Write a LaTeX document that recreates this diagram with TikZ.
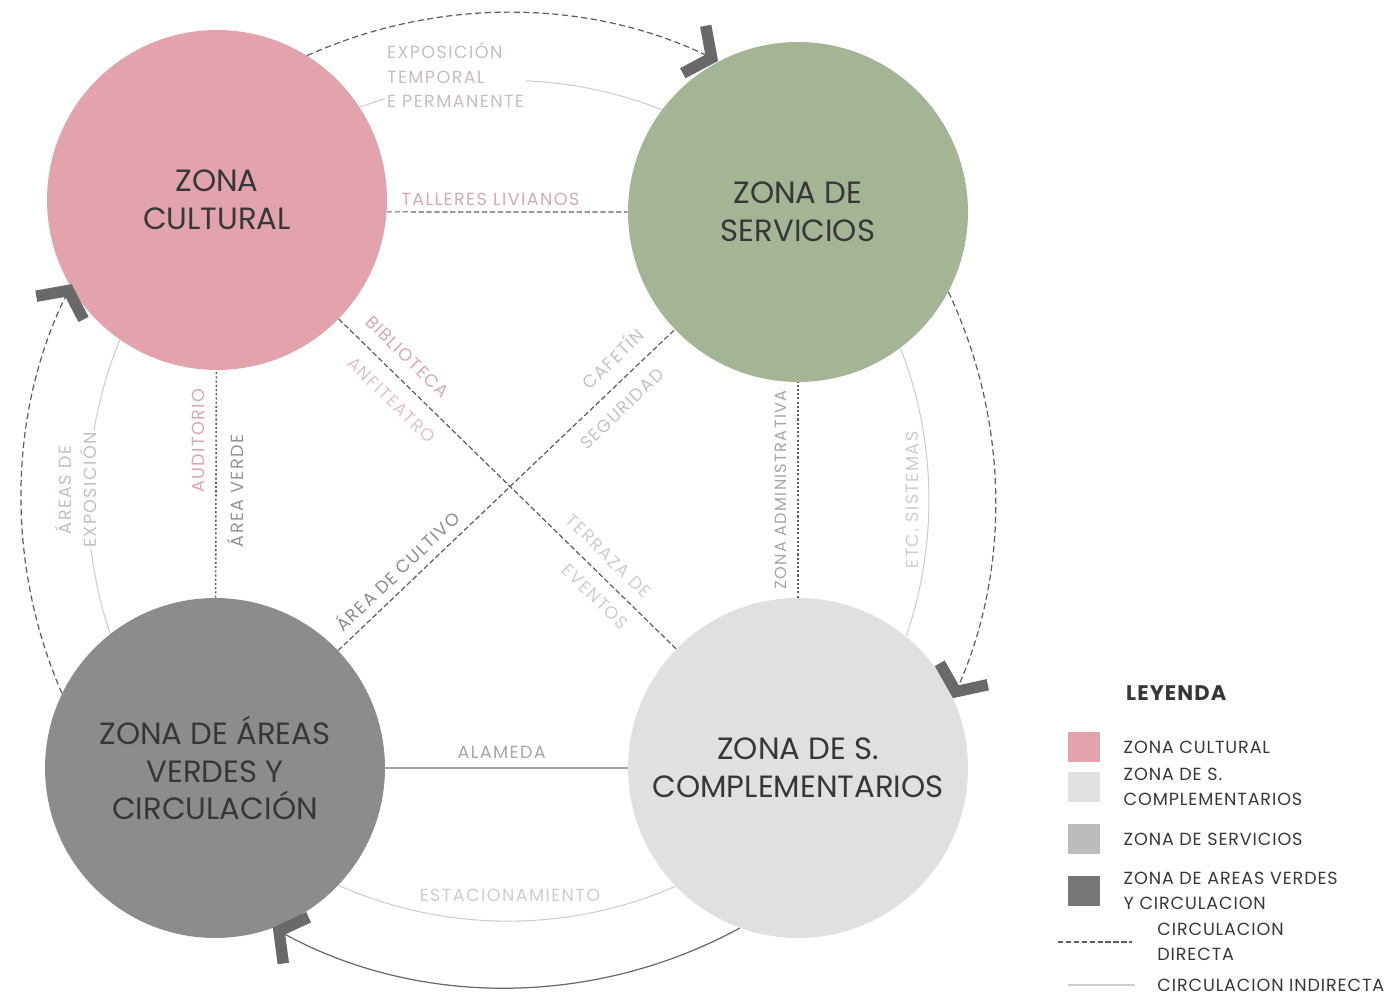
\documentclass[tikz,border=0pt]{standalone}
\usepackage{fontspec}
\setmainfont{Poppins}
\newfontfamily\etiqfont[LetterSpace=8]{Poppins}
\newfontfamily\leyfont[LetterSpace=5]{Poppins}
\usetikzlibrary{arrows.meta, positioning}
\definecolor{cultural}{RGB}{227, 163, 173}
\definecolor{servicios}{RGB}{164, 181, 150}
\definecolor{verdes}{RGB}{140, 140, 140}
\definecolor{complementarios}{RGB}{224, 224, 224}
\definecolor{legserv}{RGB}{188, 188, 188}
\definecolor{legverdes}{RGB}{118, 118, 118}
\definecolor{zonatexto}{RGB}{55, 55, 55}
\definecolor{linea}{RGB}{95, 95, 95}
\definecolor{lineaclara}{RGB}{205, 205, 205}
\definecolor{flecha}{RGB}{105, 105, 105}
\definecolor{etiqrosa}{RGB}{214, 168, 176}
\definecolor{etiqgris}{RGB}{165, 165, 165}
\definecolor{etiqtenue}{RGB}{200, 190, 192}

\tikzset{
  zona/.style={circle, minimum size=6.8cm, inner sep=0pt, align=center, font=\fontsize{17.5}{21.5}\selectfont, text=zonatexto},
  directa/.style={draw=linea, line width=0.7pt, dash pattern=on 3pt off 1.5pt},
  punteada/.style={draw=linea, line width=0.9pt, dash pattern=on 1.2pt off 1.2pt},
  indirecta/.style={draw=lineaclara, line width=0.6pt},
  anillo/.style={draw=linea, line width=0.7pt, dash pattern=on 3.5pt off 2pt},
  cheurona/.style={-{Straight Barb[length=11pt, width=30pt, line width=6.5pt, sharp, color=flecha]}},
  etiq/.style={font=\etiqfont\fontsize{10}{14}\selectfont, text=etiqgris, inner sep=1pt, align=center},
  etiqr/.style={etiq, text=etiqrosa},
  muestra/.style={minimum width=0.64cm, minimum height=0.6cm, inner sep=0pt},
  leyendatxt/.style={font=\leyfont\fontsize{10}{14}\selectfont, text=zonatexto, inner sep=0pt, align=left, anchor=west},
}

\begin{document}
\begin{tikzpicture}[x=0.02cm, y=0.02cm]
    \useasboundingbox (0,0) rectangle (1395,1001);

    % zonas
    \node[zona, fill=cultural] (cul) at (217,801) {ZONA\\CULTURAL};
    \node[zona, fill=servicios] (ser) at (798,789) {ZONA DE\\SERVICIOS};
    \node[zona, fill=verdes] (ver) at (215,233) {ZONA DE ÁREAS\\VERDES Y\\CIRCULACIÓN};
    \node[zona, fill=complementarios] (com) at (798,233) {ZONA DE S.\\COMPLEMENTARIOS};

    % anillo exterior
    \draw[anillo, cheurona] (cul.58) arc[start angle=114.2, end angle=64.3, radius=487];
    \draw[anillo, cheurona] (ser.-28) arc[start angle=25.3, end angle=-24, radius=487];
    \draw[anillo, solid, draw=flecha, cheurona] (com.-110) arc[start angle=-61.4, end angle=-118.7, radius=487];
    \draw[anillo, cheurona] (ver.154) arc[start angle=-156.5, end angle=-206.2, radius=487];

    % anillo interior
    \draw[indirecta] (cul.33) arc[start angle=110.6, end angle=68.4, radius=420];
    \draw[indirecta] (ser.-53) arc[start angle=21.2, end angle=-18.9, radius=420];
    \draw[indirecta] (com.-136) arc[start angle=-66.5, end angle=-113.8, radius=420];
    \draw[indirecta] (ver.128) arc[start angle=-161.4, end angle=-202.6, radius=420];

    \node[etiq, text=etiqtenue, align=left, anchor=west, fill=white] (exposicion) at (385,926) {EXPOSICIÓN\\TEMPORAL\\E PERMANENTE};
    \node[etiq, text=etiqtenue, rotate=90, fill=white] (expareas) at (76,511) {ÁREAS DE\\EXPOSICIÓN};
    \node[etiq, text=lineaclara, rotate=90, fill=white] (sistemas) at (912,501) {ETC. SISTEMAS};
    \node[etiq, text=lineaclara] (estacion) at (510,106) {ESTACIONAMIENTO};

    % conexiones
    \draw[directa] (cul.-4) -- node[etiqr, pos=0.43, above=2pt] {TALLERES LIVIANOS} (ser.west);
    \draw[punteada] (ver) -- node[etiqr, pos=0.69, sloped, above=5pt] {AUDITORIO}
        node[etiq, text=etiqgris!90!black, pos=0.47, sloped, below=5pt] {ÁREA VERDE} (cul);
    \draw[punteada] (com) -- node[etiq, font=\etiqfont\fontsize{9.2}{14}\selectfont, pos=0.5, sloped, above=5pt] {ZONA ADMINISTRATIVA} (ser);
    \draw[directa] (cul) -- node[etiqr, pos=0.16, sloped, above=7pt] {BIBLIOTECA}
        node[etiqr, text=etiqrosa!70!white, pos=0.2, sloped, below=7pt] {ANFITEATRO}
        node[etiq, text=lineaclara, pos=0.76, sloped, above=6pt] {TERRAZA DE}
        node[etiq, text=lineaclara, pos=0.8, sloped, below=6pt] {EVENTOS} (com);
    \draw[directa] (ver) -- node[etiq, text=etiqgris!85!black, pos=0.21, sloped, above=4pt] {ÁREA DE CULTIVO}
        node[etiqr, text=etiqtenue, pos=0.86, sloped, above=7pt] {CAFETÍN}
        node[etiq, text=etiqtenue, pos=0.8, sloped, below=7pt] {SEGURIDAD} (ser);
    \draw[draw=etiqgris, line width=0.8pt] (ver) -- node[etiq, pos=0.48, above=4pt] {ALAMEDA} (com);

    % leyenda
    \node[font=\leyfont\bfseries\fontsize{12}{14}\selectfont, text=zonatexto, anchor=west] (leyenda) at (1120,308) {LEYENDA};
    \foreach \yy/\col/\nom/\txt in {254/cultural/a/{ZONA CULTURAL}, 214/complementarios/b/{ZONA DE S.\\COMPLEMENTARIOS}, 162/legserv/c/{ZONA DE SERVICIOS}, 110/legverdes/d/{ZONA DE AREAS VERDES\\Y CIRCULACION}} {
        \node[muestra, fill=\col] (m\nom) at (1084,\yy) {};
        \node[leyendatxt, right=0.46cm of m\nom] {\txt};
    }
    \coordinate (ld1) at (1058,59);
    \coordinate (ld2) at (1132,59);
    \draw[directa] (ld1) -- (ld2);
    \node[leyendatxt, right=0.5cm of ld2] {CIRCULACION\\DIRECTA};
    \coordinate (li1) at (1068,16);
    \coordinate (li2) at (1135,16);
    \draw[indirecta] (li1) -- (li2);
    \node[leyendatxt, right=0.44cm of li2] {CIRCULACION INDIRECTA};
\end{tikzpicture}
\end{document}
